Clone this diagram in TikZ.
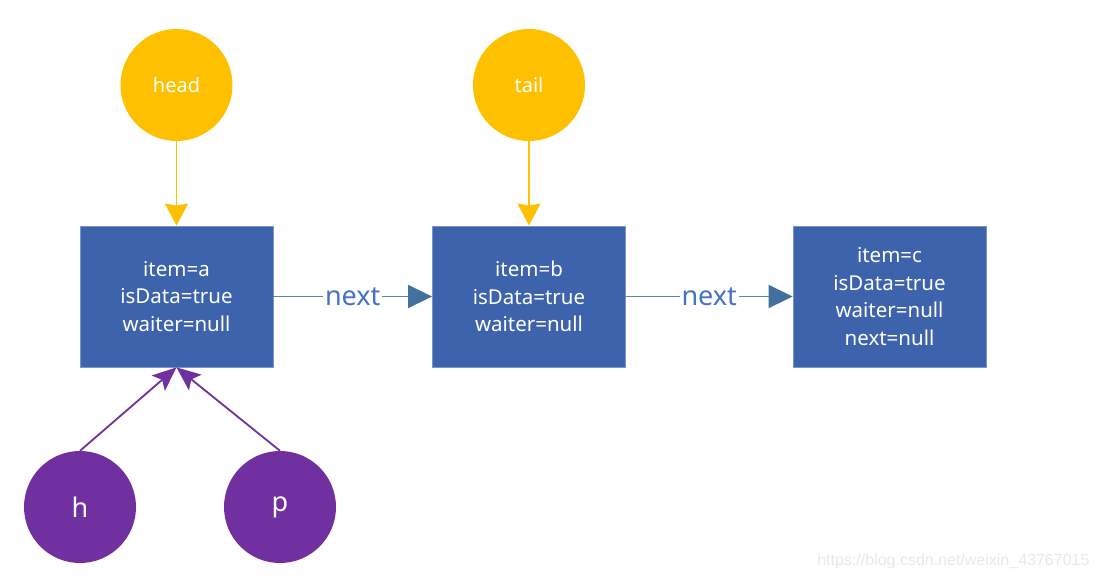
\documentclass[tikz,border=0pt]{standalone}
\usepackage{fontspec}
\setmainfont{Noto Sans}
\newfontfamily\wmfont{Liberation Sans}
\usetikzlibrary{arrows.meta}
\definecolor{ybg}{HTML}{FFC000}
\definecolor{boxfill}{RGB}{62,99,173}
\definecolor{boxedge}{RGB}{120,150,205}
\definecolor{purp}{HTML}{7030A0}
\definecolor{arrowblue}{HTML}{41719C}
\definecolor{lineblue}{RGB}{95,130,175}
\definecolor{nexttext}{HTML}{4472C4}
\tikzset{
  ycirc/.style={circle, fill=ybg, draw=none, minimum size=112pt, inner sep=0pt, text=white, font=\fontsize{20}{23}\selectfont},
  pcirc/.style={circle, fill=purp, draw=none, minimum size=112pt, inner sep=0pt, text=white, font=\fontsize{27}{30}\selectfont},
  databox/.style={rectangle, fill=boxfill, draw=boxedge, line width=0.8pt, minimum width=193pt, minimum height=141pt, inner sep=0pt, text=white, align=center, font=\fontsize{20.5}{27.5}\selectfont},
  yarrow/.style={draw=ybg, line width=1.8pt, -{Stealth[length=22pt,width=23pt,inset=2pt]}},
  parrow/.style={draw=purp, line width=1.8pt, -{Stealth[length=24pt,width=20pt,inset=5pt]}},
  barrow/.style={draw=lineblue, line width=1.6pt, -{Triangle[length=24pt,width=23pt,fill=arrowblue,color=arrowblue]}},
  nextlbl/.style={fill=white, text=nexttext, inner sep=2pt, font=\fontsize{27}{30}\selectfont},
}
\begin{document}
\begin{tikzpicture}[x=1pt,y=-1pt]
\useasboundingbox (0,0) rectangle (1102,580);
\node[ycirc] (head) at (176.5,85) {head};
\node[ycirc] (tail) at (529,85) {tail};
\node[databox] (a) at (176.5,296.5) {item=a\\isData=true\\waiter=null};
\node[databox] (b) at (529,296.5) {item=b\\isData=true\\waiter=null};
\node[databox] (c) at (889.5,296.5) {item=c\\isData=true\\waiter=null\\next=null};
\node[pcirc] (h) at (80,507) {h};
\node[pcirc] (p) at (280,507) {p};
\draw[yarrow] (head.south) -- (a.north);
\draw[yarrow] (tail.south) -- (b.north);
\draw[barrow] (a.east) -- node[nextlbl] (n1) {next} (b.west);
\draw[barrow] (b.east) -- node[nextlbl] (n2) {next} (c.west);
\draw[parrow] (h.north) -- (a.south);
\draw[parrow] (p.north) -- (a.south);
\node[text=black!9, font=\wmfont\fontsize{16}{18}\selectfont, anchor=east] (wm) at (1093,561) {https://blog.csdn.net/weixin\_43767015};
\end{tikzpicture}
\end{document}
